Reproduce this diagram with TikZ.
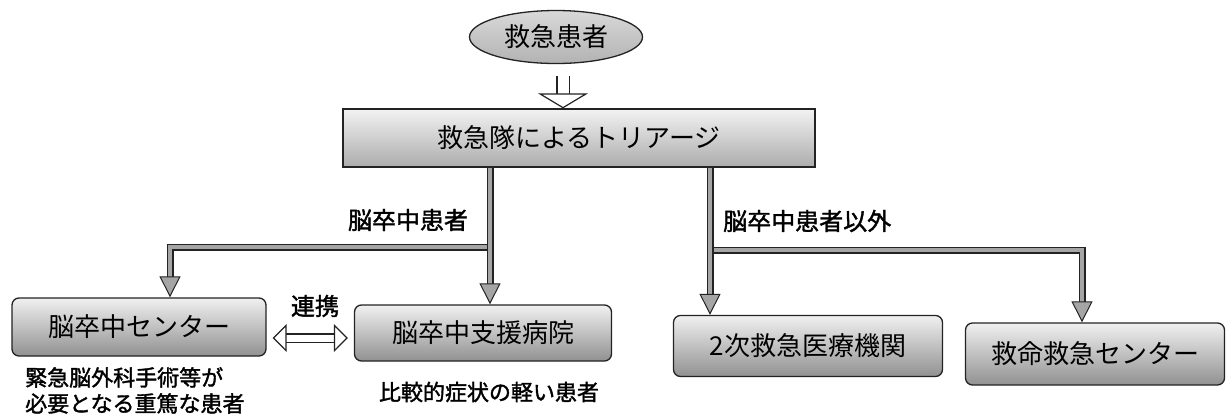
\documentclass[tikz,border=0pt]{standalone}
\usepackage{fontspec}
\usepackage{tikz}
\usetikzlibrary{arrows.meta,positioning,shapes.geometric}
\newfontfamily\jpfont{Noto Sans CJK JP}
\newfontfamily\jpbold[FakeBold=1.6]{Noto Sans CJK JP}
\definecolor{boxtop}{RGB}{240,240,240}
\definecolor{boxbottom}{RGB}{145,145,145}
\definecolor{linegray}{RGB}{165,165,165}
\definecolor{edgegray}{RGB}{35,35,35}
\newcommand{\boxsize}{\fontsize{26}{26}\selectfont}

\begin{document}
\begin{tikzpicture}[
    x=1pt,y=-1pt,
    stage/.style={rectangle,rounded corners=7pt,draw=edgegray,line width=1.3pt,
      top color=boxtop,bottom color=boxbottom,inner sep=0pt,font=\jpfont\boxsize},
    triagebox/.style={stage,rounded corners=0pt,top color=gray!10,bottom color=gray!65},
    patient/.style={ellipse,draw=edgegray,line width=1.3pt,top color=gray!30,
      bottom color=gray!60,inner sep=0pt,minimum width=173pt,minimum height=53pt,
      font=\jpfont\boxsize},
    branch/.style={inner sep=0pt,font=\jpbold\fontsize{24}{24}\selectfont},
    remark/.style={inner sep=0pt,align=left,font=\jpbold\fontsize{22}{26}\selectfont},
    flow/.style={draw=linegray,line width=4.5pt,line join=miter,
      -{Triangle[length=21pt,width=21pt,color=edgegray,fill=linegray,line width=1pt]},
      preaction={draw=edgegray,line width=7pt,-,line join=miter,shorten >=16pt}},
    hollow/.style={draw=white,line width=11pt,
      -{Triangle[length=15pt,width=50pt,color=edgegray,fill=white,line width=1.2pt]},
      preaction={draw=edgegray,line width=14pt,-,shorten >=12pt}},
    linkarrow/.style={draw=white,line width=7pt,
      {Triangle[length=14pt,width=28pt,color=edgegray,fill=white,line width=1.2pt]}-{Triangle[length=14pt,width=28pt,color=edgegray,fill=white,line width=1.2pt]},
      preaction={draw=edgegray,line width=10pt,-,shorten >=11pt,shorten <=11pt}}
  ]
    \useasboundingbox (0,0) rectangle (1229,416);

    \node[patient] (patient) at (556,37) {救急患者};
    \node[triagebox,minimum width=472pt,minimum height=58pt] (triage) at (579,138) {救急隊によるトリアージ};
    \node[stage,minimum width=254pt,minimum height=58pt] (strokectr) at (139,327) {脳卒中センター};
    \node[stage,minimum width=257pt,minimum height=56pt] (supporthosp) at (483,333) {脳卒中支援病院};
    \node[stage,minimum width=269pt,minimum height=61pt] (secondary) at (808,346) {2次救急医療機関};
    \node[stage,minimum width=259pt,minimum height=62pt] (lifesaving) at (1095,354) {救命救急センター};

    \node[branch] (strokelabel) at (408,220) {脳卒中患者};
    \node[branch,anchor=west] (otherlabel) at (723,221) {脳卒中患者以外};
    \node[branch] (linklabel) at (315,306) {連携};
    \node[remark,anchor=north west] (ctrnote) at (25,367) {緊急脳外科手術等が\\必要となる重篤な患者};
    \node[remark] (suppnote) at (489,392) {比較的症状の軽い患者};

    \coordinate[below right=12pt and 7pt of patient.south] (dropstart);
    \coordinate (leftsplit) at (490,247);
    \coordinate (rightsplit) at (710,250);
    \coordinate[below right=11pt and 6pt of strokectr.east] (linkstart);
    \path (linkstart -| supporthosp.west) coordinate (linkhit);
    \coordinate[left=6pt of linkhit] (linkend);

    \draw[hollow] (dropstart) -- (dropstart |- triage.north);
    \draw[flow] (leftsplit) -| ([xshift=31pt]strokectr.north);
    \draw[flow] (triage.south -| leftsplit) -- (leftsplit |- supporthosp.north);
    \draw[flow] (rightsplit) -| ([xshift=-13pt]lifesaving.north);
    \draw[flow] (triage.south -| rightsplit) -- (rightsplit |- secondary.north);
    \draw[linkarrow] (linkstart) -- (linkend);
  \end{tikzpicture}
\end{document}
